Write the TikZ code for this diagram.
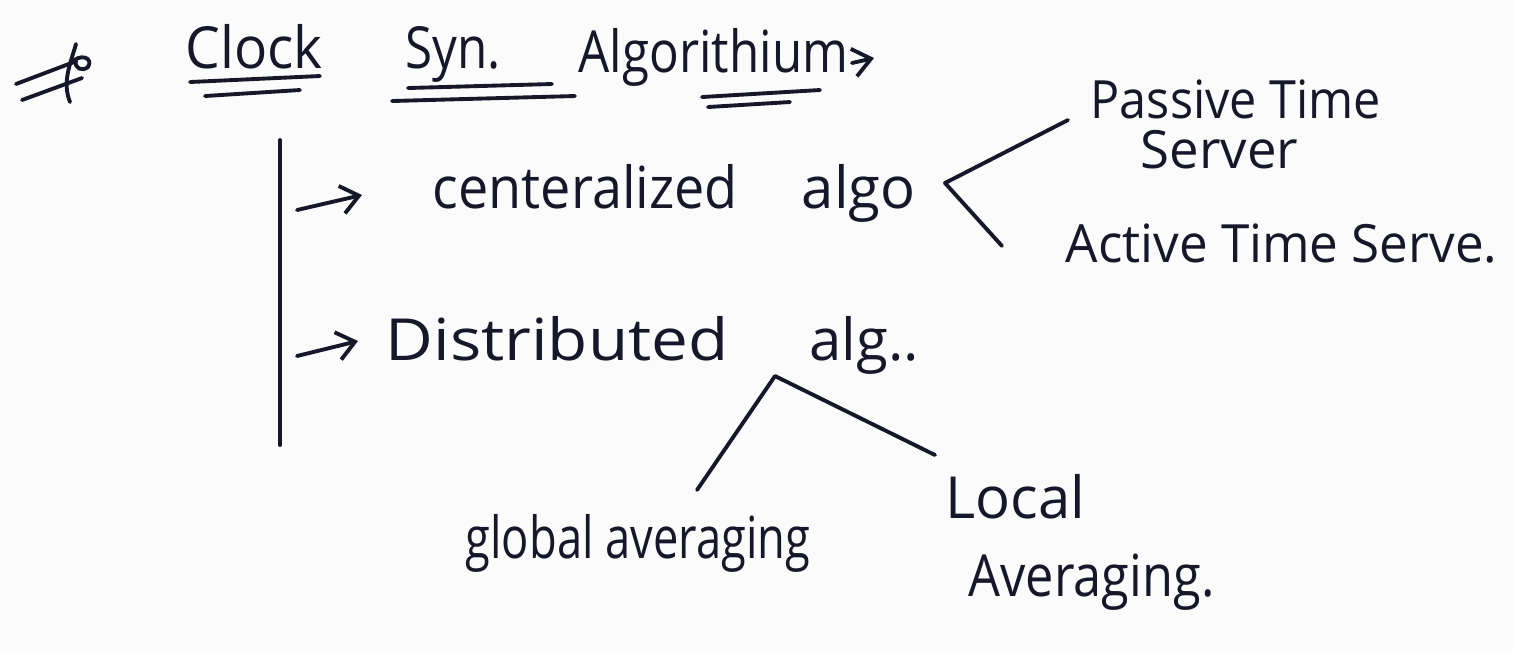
\documentclass[tikz,border=0pt]{standalone}
\usepackage{fontspec}
\setmainfont{Open Sans}
\usetikzlibrary{arrows.meta}
\definecolor{ink}{RGB}{22,24,42}
\definecolor{paper}{RGB}{251,251,251}
\newcommand{\hsq}[2]{\scalebox{#1}[1]{#2}}
\tikzset{
  hand/.style={anchor=base west, inner sep=0pt, text=ink, font=\fontsize{15}{18}\selectfont},
  big/.style={hand, font=\fontsize{16.5}{19}\selectfont},
  pen/.style={draw=ink, line width=1.1pt, line cap=round, line join=round},
  arr/.style={pen, -{Straight Barb[length=5pt,width=8pt]}}
}
\begin{document}
\begin{tikzpicture}[x=0.01cm,y=-0.01cm]
\fill[paper] (0,0) rectangle (1513,653);
\useasboundingbox (0,0) rectangle (1513,653);

% bullet mark
\draw[pen] (16,84) -- (74,62);
\draw[pen] (22,100) -- (82,78);
\draw[pen] (76,44) .. controls (70,65) and (62,82) .. (70,102);
\draw[pen] (70,64) .. controls (80,52) and (94,58) .. (88,67) .. controls (82,72) and (74,68) .. (76,61);

% title
\node[big] (clock) at (185,68) {\hsq{0.95}{Clock}};
\node[big] (syn) at (405,68) {\hsq{0.85}{Syn.}};
\node[big] (algt) at (578,72) {\hsq{0.85}{Algorithium}};
\coordinate (tarrs) at (852,63);
\coordinate (tarre) at (874,58);
\draw[arr] (tarrs) -- (tarre);

% underlines
\draw[pen] (190,82) -- (320,76);
\draw[pen] (205,96) -- (300,90);
\draw[pen] (392,101) -- (575,96);
\draw[pen] (408,88) -- (552,84);
\draw[pen] (702,97) -- (820,90);
\draw[pen] (708,107) -- (790,102);

% main branch
\coordinate (vtop) at (280,140);
\coordinate (vbot) at (280,445);
\draw[pen] (vtop) -- (vbot);
\coordinate (a1s) at (297,210);
\coordinate (a1e) at (362,195);
\coordinate (a2s) at (297,356);
\coordinate (a2e) at (358,341);
\draw[arr] (a1s) -- (a1e);
\draw[arr] (a2s) -- (a2e);

\node[big] (cent) at (432,208) {\hsq{0.93}{centeralized}\hspace{1.1em}algo};
\node[big] (dist) at (385,360) {\hsq{1.13}{Distributed}\hspace{1.4em}alg..};

% centralized sub-branches
\node[hand] (pass) at (1090,118) {\hsq{0.92}{Passive Time}};
\node[hand] (serv) at (1140,168) {Server};
\node[hand] (act) at (1065,262) {\hsq{0.97}{Active Time Serve.}};
\coordinate (bapex) at (945,183);
\coordinate (bup) at (1068,120);
\coordinate (blow) at (1002,246);
\draw[pen] (bup) -- (bapex) -- (blow);

% distributed sub-branches
\node[big] (glob) at (465,558) {\hsq{0.78}{global averaging}};
\node[big] (loc) at (945,518) {Local};
\node[big] (avg) at (968,596) {\hsq{0.87}{Averaging.}};
\coordinate (tapex) at (775,376);
\coordinate (tleft) at (697,490);
\coordinate (tright) at (935,455);
\draw[pen] (tleft) -- (tapex) -- (tright);
\end{tikzpicture}
\end{document}
